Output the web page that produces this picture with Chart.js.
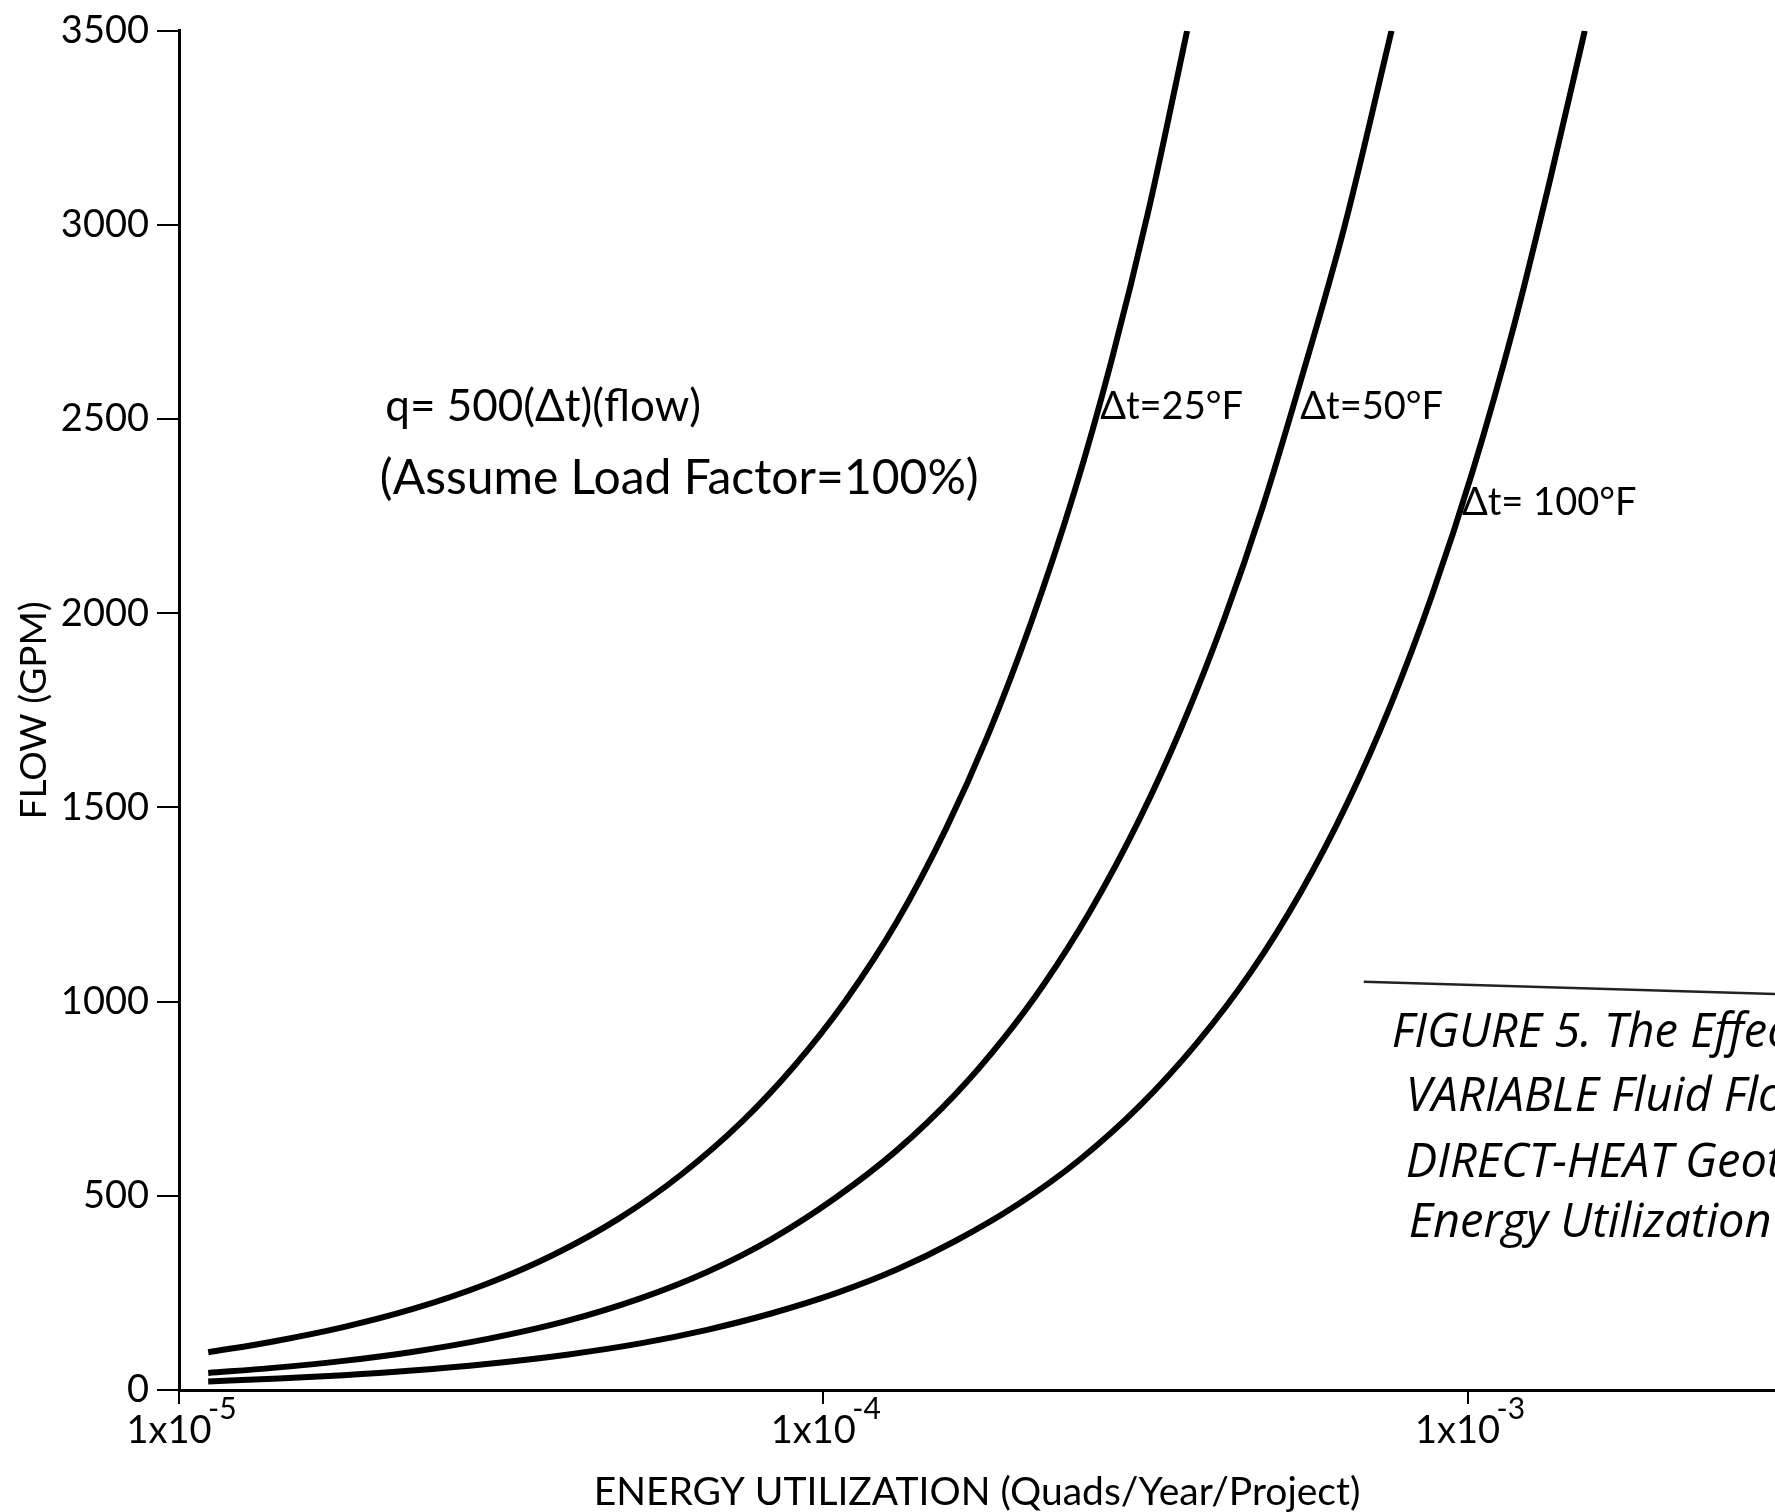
<!DOCTYPE html>
<html>
<head>
<meta charset="utf-8">
<script src="https://cdn.jsdelivr.net/npm/chart.js@4.4.0/dist/chart.umd.min.js"></script>
<style>
  html, body { margin: 0; padding: 0; background: #fff; }
  canvas { display: block; }
</style>
</head>
<body>
<canvas id="chart" width="1775" height="1512"></canvas>
<script>
// values (energy in quads/year/project, flow in GPM)
const seriesLabels = ['Δt=25°F', 'Δt=50°F', 'Δt= 100°F'];

const energy25 = [1.11e-5, 1.4e-5, 1.8e-5, 2.3e-5, 3e-5, 3.8e-5, 4.8e-5, 6e-5, 7.5e-5, 9e-5, 1.08e-4, 1.3e-4, 1.55e-4, 1.8e-4, 2.1e-4, 2.45e-4, 2.8e-4, 3.2e-4, 3.67e-4];
const flow25   = [97, 125, 162, 208, 273, 347, 440, 553, 693, 833, 1000, 1205, 1445, 1685, 1975, 2310, 2650, 3040, 3500];

const energy50 = [1.11e-5, 1.4e-5, 1.8e-5, 2.3e-5, 3e-5, 4e-5, 5.2e-5, 6.6e-5, 8.3e-5, 1.045e-4, 1.3e-4, 1.6e-4, 1.9e-4, 2.2e-4, 2.6e-4, 3.1e-4, 3.6e-4, 4.2e-4, 4.8e-4, 5.5e-4, 6.45e-4, 7.62e-4];
const flow50   = [44, 57, 75, 98, 131, 178, 236, 304, 388, 495, 617, 760, 903, 1045, 1235, 1472, 1708, 1990, 2270, 2595, 3000, 3500];

const energy100 = [1.11e-5, 1.4e-5, 1.8e-5, 2.3e-5, 3e-5, 4e-5, 5.2e-5, 6.6e-5, 8.3e-5, 1.05e-4, 1.3e-4, 1.6e-4, 2e-4, 2.5e-4, 3.1e-4, 3.8e-4, 4.6e-4, 5.5e-4, 6.5e-4, 7.6e-4, 8.8e-4, 1.02e-3, 1.18e-3, 1.34e-3, 1.52e-3];
const flow100   = [22, 29, 38, 50, 67, 91, 120, 155, 197, 250, 310, 383, 477, 593, 732, 893, 1074, 1280, 1510, 1765, 2045, 2370, 2740, 3110, 3500];

const flowTicks = [0, 500, 1000, 1500, 2000, 2500, 3000, 3500];
const energyTicks = [1e-5, 1e-4, 1e-3];
const energyTickBase = '1x10';
const energyTickExponents = ['-5', '-4', '-3'];

const FONT = 'Lato, "Open Sans", sans-serif';

function toPoints(xs, ys) {
  return xs.map((x, i) => ({ x: x, y: ys[i] }));
}

function curve(label, xs, ys) {
  return {
    label: label,
    data: toPoints(xs, ys),
    borderColor: '#000',
    borderWidth: 6,
    pointRadius: 0,
    fill: false,
    cubicInterpolationMode: 'monotone'
  };
}

// exponents of the x tick labels, set next to each tick's "1x10"
const tickExponents = {
  id: 'tickExponents',
  afterDraw(chart) {
    const { ctx, scales: { x } } = chart;
    ctx.save();
    ctx.fillStyle = '#000';
    ctx.textAlign = 'left';
    ctx.textBaseline = 'middle';
    ctx.font = '30px ' + FONT;
    x.ticks.forEach((t, i) => {
      const px = x.getPixelForValue(t.value);
      ctx.fillText(energyTickExponents[i], px + 29, x.top + 19);
    });
    ctx.restore();
  }
};

// text written on the plot, placed in data coordinates
const notes = {
  id: 'notes',
  afterDatasetsDraw(chart) {
    const { ctx, scales: { x, y } } = chart;
    ctx.save();
    ctx.fillStyle = '#000';
    ctx.textAlign = 'left';
    ctx.textBaseline = 'middle';

    ctx.font = '44px ' + FONT;
    ctx.fillText('q= 500(Δt)(flow)', x.getPixelForValue(2.09e-5), y.getPixelForValue(2533));
    ctx.font = '48px ' + FONT;
    ctx.fillText('(Assume Load Factor=100%)', x.getPixelForValue(2.05e-5), y.getPixelForValue(2346));

    ctx.font = '38px ' + FONT;
    ctx.fillText(seriesLabels[0], x.getPixelForValue(2.69e-4), y.getPixelForValue(2531));
    ctx.fillText(seriesLabels[1], x.getPixelForValue(5.5e-4), y.getPixelForValue(2531));
    ctx.fillText(seriesLabels[2], x.getPixelForValue(0.98e-3), y.getPixelForValue(2285));

    // handwritten caption pasted in the lower right
    const cx = x.getPixelForValue(6.9e-4);
    ctx.strokeStyle = '#222';
    ctx.lineWidth = 2.5;
    ctx.beginPath();
    ctx.moveTo(cx, y.getPixelForValue(1051));
    ctx.lineTo(chart.width, y.getPixelForValue(1020));
    ctx.stroke();

    ctx.font = 'italic 47px "Open Sans", sans-serif';
    ctx.fillText('FIGURE 5. The Effect of', cx + 28, y.getPixelForValue(918));
    ctx.fillText('VARIABLE Fluid Flow on', cx + 42, y.getPixelForValue(754));
    ctx.fillText('DIRECT-HEAT Geothermal', cx + 42, y.getPixelForValue(582));
    ctx.fillText('Energy Utilization', cx + 45, y.getPixelForValue(428));
    ctx.restore();
  }
};

new Chart(document.getElementById('chart'), {
  type: 'line',
  data: {
    datasets: [
      curve(seriesLabels[0], energy25, flow25),
      curve(seriesLabels[1], energy50, flow50),
      curve(seriesLabels[2], energy100, flow100)
    ]
  },
  options: {
    responsive: false,
    animation: false,
    devicePixelRatio: 1,
    layout: { padding: { top: 22, right: 0, bottom: 0, left: 0 } },
    plugins: {
      legend: { display: false },
      tooltip: { enabled: false }
    },
    scales: {
      x: {
        type: 'logarithmic',
        min: 1e-5,
        max: 3e-3,
        afterBuildTicks: axis => { axis.ticks = energyTicks.map(v => ({ value: v })); },
        afterFit: axis => { axis.height = 122; },
        ticks: {
          autoSkip: false,
          maxRotation: 0,
          color: '#000',
          padding: 4,
          labelOffset: -10,
          font: { family: FONT, size: 38 },
          callback: () => energyTickBase
        },
        grid: { drawOnChartArea: false, drawTicks: true, tickLength: 14, color: '#000', lineWidth: 2 },
        border: { color: '#000', width: 3 },
        title: {
          display: true,
          text: 'ENERGY UTILIZATION (Quads/Year/Project)',
          color: '#000',
          font: { family: FONT, size: 39, lineHeight: 1 },
          padding: { top: 0, bottom: 0 }
        }
      },
      y: {
        min: 0,
        max: 3500,
        afterBuildTicks: axis => { axis.ticks = flowTicks.map(v => ({ value: v })); },
        afterFit: axis => { axis.width = 179; },
        ticks: {
          color: '#000',
          padding: 8,
          font: { family: FONT, size: 38 },
          callback: v => String(v)
        },
        grid: { drawOnChartArea: false, drawTicks: true, tickLength: 22, color: '#000', lineWidth: 2 },
        border: { color: '#000', width: 3 },
        title: {
          display: true,
          text: 'FLOW (GPM)',
          color: '#000',
          font: { family: FONT, size: 37 },
          padding: { top: 12, bottom: 0 }
        }
      }
    }
  },
  plugins: [notes, tickExponents]
});
</script>
</body>
</html>
